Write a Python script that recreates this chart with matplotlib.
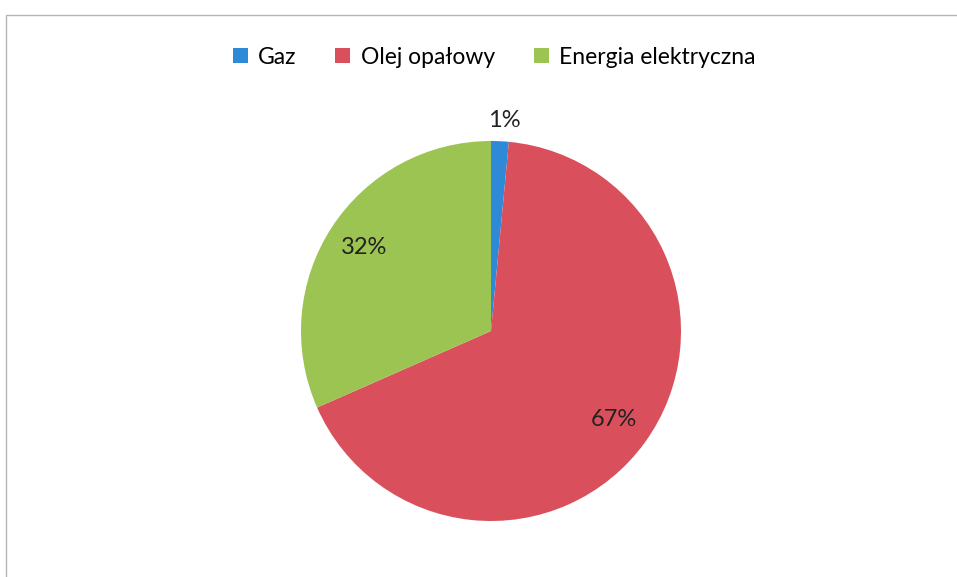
import matplotlib
matplotlib.use("Agg")
from matplotlib import pyplot as plt
from matplotlib.patches import Rectangle

categories = ["Gaz", "Olej opałowy", "Energia elektryczna"]
shares = [1.5, 66.9, 31.6]
pct_labels = ["1%", "67%", "32%"]
colors = ["#2e8ad6", "#d94f5c", "#9cc453"]

plt.rcParams["font.family"] = ["Lato", "DejaVu Sans"]

W, H = 957, 577
fig = plt.figure(figsize=(W / 100, H / 100), dpi=100)

# pie centred at ~(491, 331) px, radius ~190 px
cx, cy, r = 491, 331, 190
ax = fig.add_axes([(cx - r) / W, (H - cy - r) / H, 2 * r / W, 2 * r / H])
wedges, texts = ax.pie(shares, colors=colors, labels=pct_labels, startangle=90,
                       counterclock=False, labeldistance=0.8,
                       textprops={"fontsize": 17, "color": "#222222"})
for t in texts:
    t.set_ha("center")
    t.set_va("center")
# the tiny slice gets its label outside
x, y = texts[0].get_position()
texts[0].set_position((x * 1.11 / 0.8 + 0.02, y * 1.11 / 0.8))
ax.set_xlim(-1, 1)
ax.set_ylim(-1, 1)
ax.set_aspect("equal")

fig.legend(wedges, categories, loc="center", bbox_to_anchor=(494 / W, 1 - 57 / H),
           ncol=3, frameon=False, fontsize=16.5, handlelength=0.65, handleheight=0.65,
           handletextpad=0.45, columnspacing=1.7)

# chart-area border (cut off at right and bottom)
fig.add_artist(Rectangle((6 / W, -0.1), 2, (H - 15) / H + 0.1, fill=False,
                         edgecolor="#b5b5b5", lw=1, transform=fig.transFigure))

fig.savefig("out.png", dpi=100)
